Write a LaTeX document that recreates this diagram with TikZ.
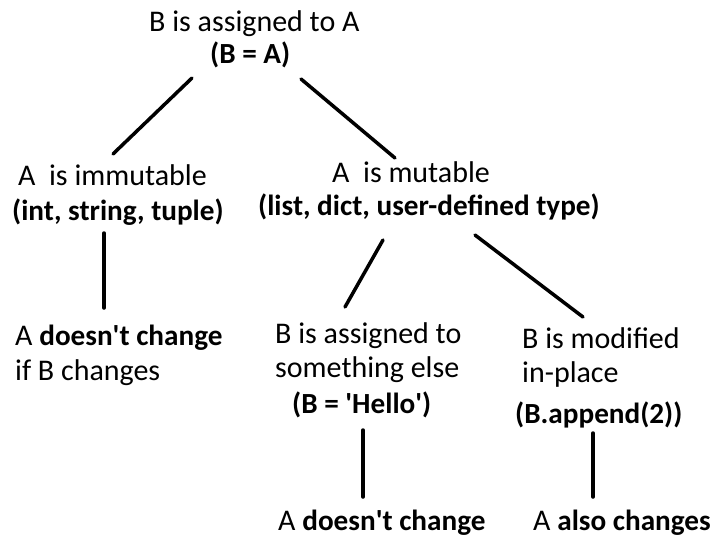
\documentclass[tikz,border=0pt]{standalone}
\usepackage{fontspec}
\setmainfont{Carlito}
\newcommand\bt[1]{{\fontsize{29.2}{35}\selectfont\bfseries #1}}
\tikzset{every node/.style={font=\fontsize{30}{35}\selectfont, inner sep=0pt, anchor=base west},
  link/.style={black, line width=3.5pt, line cap=round}}

\begin{document}
\begin{tikzpicture}[x=1pt,y=-1pt]
   \useasboundingbox (0,0) rectangle (713,539);
   \node (root)  at (149,31) {B is assigned to A};
   \node (rootc) at (210,63) {\bt{(B = A)}};
   \node (imm)   at (18,185) {A~~is immutable};
   \node (immc)  at (12,220) {\bt{(int, string, tuple)}};
   \node (mut)   at (332,182) {A~~is mutable};
   \node (mutc)  at (258,215) {\bt{(list, dict, user-defined type)}};
   \node (keep)  at (15,345) {A \bt{doesn\textquotesingle t change}};
   \node (keepb) at (15,380) {if B changes};
   \node (asg)   at (275,343) {B is assigned to};
   \node (asgb)  at (275,377) {something else};
   \node (asgc)  at (292,413) {\bt{(B = \textquotesingle Hello\textquotesingle)}};
   \node (mod)   at (522,348) {B is modified};
   \node (modb)  at (522,382) {in-place};
   \node (modc)  at (515,423) {\bt{(B.append(2))}};
   \node (same)  at (278,530) {A \bt{doesn\textquotesingle t change}};
   \node (also)  at (533,530) {A \bt{also changes}};

   \coordinate (r1) at (192,78);  \coordinate (i1) at (113,154);
   \coordinate (r2) at (301,79);  \coordinate (m1) at (395,158);
   \coordinate (i2) at (104,233); \coordinate (k1) at (104,308);
   \coordinate (m2) at (383,240); \coordinate (a1) at (345,307);
   \coordinate (m3) at (475,235); \coordinate (d1) at (583,317);
   \coordinate (a2) at (363,430); \coordinate (s1) at (363,497);
   \coordinate (d2) at (593,433); \coordinate (o1) at (593,497);

   \draw[link] (r1) -- (i1);
   \draw[link] (r2) -- (m1);
   \draw[link] (i2) -- (k1);
   \draw[link] (m2) -- (a1);
   \draw[link] (m3) -- (d1);
   \draw[link] (a2) -- (s1);
   \draw[link] (d2) -- (o1);
\end{tikzpicture}
\end{document}
